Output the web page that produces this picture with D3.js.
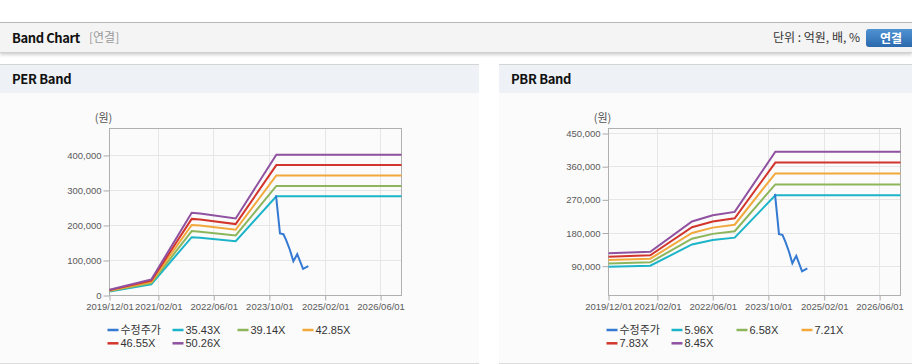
<!DOCTYPE html>
<html>
<head>
<meta charset="utf-8">
<script src="https://cdn.jsdelivr.net/npm/d3@7"></script>
<style>
body { margin: 0; width: 912px; height: 364px; overflow: hidden; background: #fff; position: relative;
  font-family: "Noto Sans CJK KR", "Liberation Sans", sans-serif; }
.topbar { position: absolute; left: 0; top: 22px; width: 912px; height: 29px; background: #f4f4f4;
  border-top: 1px solid #b8b8b8; border-bottom: 1px solid #d0d0d0; box-shadow: 0 2px 3px rgba(0,0,0,.18); }
.topbar .title { position: absolute; left: 12px; top: 5px; font-size: 13px; font-weight: bold; color: #111;
  letter-spacing: -0.4px; }
.topbar .sub { position: absolute; left: 89px; top: 5px; font-size: 12px; color: #999; }
.topbar .unit { position: absolute; right: 52px; top: 5px; font-size: 12px; color: #333; }
.topbar .btn { position: absolute; left: 866px; top: 6px; width: 52px; height: 18px; border-radius: 3px;
  background: linear-gradient(#4f93d3, #2b68ad); color: #fff; font-size: 12px; font-weight: bold;
  line-height: 18px; text-indent: 14px; }
.panel { position: absolute; top: 64px; height: 298px; background: #fbfbfb;
  border-top: 1px solid #d4d4d4; border-bottom: 1px solid #dcdcdc; }
.panel .head { height: 28px; background: #eef1f6; font-size: 13px; font-weight: bold; color: #111;
  line-height: 28px; padding-left: 12px; letter-spacing: -0.3px; }
.panel svg { position: absolute; left: 0; top: 28px; }
</style>
</head>
<body>
<div class="topbar">
  <div class="title">Band Chart</div>
  <div class="sub">[연결]</div>
  <div class="unit">단위 : 억원, 배, %</div>
  <div class="btn">연결</div>
</div>
<div class="panel" id="per" style="left:0;width:479px;"><div class="head">PER Band</div></div>
<div class="panel" id="pbr" style="left:499px;width:413px;"><div class="head">PBR Band</div></div>
<script>
// x axis
var xStart = '2019-12-01';
var xEnd = '2026-12-01';
var xTickDates = ['2019-12-01', '2021-02-01', '2022-06-01', '2023-10-01', '2025-02-01', '2026-06-01'];

// adjusted price (shared by both charts)
var priceDates = ['2023-11-28', '2024-01-02', '2024-02-01', '2024-02-25', '2024-03-29', '2024-04-28', '2024-06-01', '2024-07-22', '2024-09-06'];
var priceValues = [286000, 177000, 175000, 158000, 130000, 98000, 118000, 76000, 84000];

// PER band
var perDates = ['2019-12-01', '2020-12-01', '2021-11-20', '2022-02-01', '2022-12-10', '2023-12-01', '2026-12-01'];
var perLabels = ['35.43X', '39.14X', '42.85X', '46.55X', '50.26X'];
var per1 = [11700, 32200, 166500, 165100, 155200, 283400, 283400];
var per2 = [12900, 35600, 184000, 182400, 171400, 313100, 313100];
var per3 = [14100, 39000, 201400, 199700, 187700, 342800, 342800];
var per4 = [15400, 42400, 218800, 216900, 203900, 372400, 372400];
var per5 = [16600, 45700, 236200, 234200, 220100, 402100, 402100];
var perYTicks = [0, 100000, 200000, 300000, 400000];

// PBR band
var pbrDates = ['2019-12-01', '2020-12-01', '2021-12-01', '2022-06-01', '2022-12-10', '2023-12-01', '2026-12-01'];
var pbrLabels = ['5.96X', '6.58X', '7.21X', '7.83X', '8.45X'];
var pbr1 = [88200, 91200, 149000, 160900, 167500, 282500, 282500];
var pbr2 = [97400, 100700, 164500, 177700, 184900, 311900, 311900];
var pbr3 = [106700, 110300, 180300, 194700, 202600, 341800, 341800];
var pbr4 = [115900, 119800, 195800, 211400, 220000, 371100, 371100];
var pbr5 = [125100, 129300, 211300, 228200, 237400, 400500, 400500];
var pbrYTicks = [90000, 180000, 270000, 360000, 450000];

var bandColors = ['#1cb4c8', '#8db55b', '#f2a83b', '#d2352c', '#8f51a0'];
var priceColor = '#3479d2';

var parse = d3.timeParse('%Y-%m-%d');

drawBand('per', perDates, [per1, per2, per3, per4, per5], perLabels, [0, 477000], perYTicks, 479);
drawBand('pbr', pbrDates, [pbr1, pbr2, pbr3, pbr4, pbr5], pbrLabels, [10500, 463600], pbrYTicks, 413);

function drawBand(id, dates, bands, labels, yDomain, yTicks, panelWidth) {
  var m = { left: 109.5, top: 35.5, w: 292, h: 167 };

  var svg = d3.select('#' + id).append('svg')
    .attr('width', panelWidth)
    .attr('height', 269);

  var x = d3.scaleTime()
    .domain([parse(xStart), parse(xEnd)])
    .range([0, m.w]);
  var y = d3.scaleLinear()
    .domain(yDomain)
    .range([m.h, 0]);

  svg.append('text')
    .attr('x', m.left - 6)
    .attr('y', 29)
    .attr('text-anchor', 'middle')
    .style('font-size', '11px')
    .style('fill', '#555')
    .text('(원)');

  var g = svg.append('g')
    .attr('transform', 'translate(' + m.left + ',' + m.top + ')');

  // grid
  g.selectAll('.hgrid').data(yTicks).enter().append('line')
    .attr('x1', 0).attr('x2', m.w)
    .attr('y1', function(d) { return Math.round(y(d)); })
    .attr('y2', function(d) { return Math.round(y(d)); })
    .style('stroke', '#e6e6e6');
  g.selectAll('.vgrid').data(xTickDates).enter().append('line')
    .attr('x1', function(d) { return Math.round(x(parse(d))); })
    .attr('x2', function(d) { return Math.round(x(parse(d))); })
    .attr('y1', 0).attr('y2', m.h)
    .style('stroke', '#e6e6e6');

  // axes
  var yAxis = g.append('g')
    .call(d3.axisLeft(y).tickValues(yTicks).tickSize(6).tickPadding(2).tickFormat(d3.format(',')));
  var xAxis = g.append('g')
    .attr('transform', 'translate(0,' + m.h + ')')
    .call(d3.axisBottom(x).tickValues(xTickDates.map(parse)).tickSize(5).tickPadding(3)
      .tickFormat(d3.timeFormat('%Y/%m/%d')));
  [yAxis, xAxis].forEach(function(a) {
    a.select('.domain').remove();
    a.selectAll('line').style('stroke', '#aaa');
    a.selectAll('text')
      .style('font-family', '"Liberation Sans", Arial, sans-serif')
      .style('font-size', '9.5px')
      .style('fill', '#5a5a5a');
  });

  g.append('rect')
    .attr('width', m.w).attr('height', m.h)
    .style('fill', 'none')
    .style('stroke', '#b0b0b0');

  var line = d3.line()
    .x(function(d) { return x(d[0]); })
    .y(function(d) { return y(d[1]); });

  bands.forEach(function(vals, i) {
    g.append('path')
      .datum(vals.map(function(v, j) { return [parse(dates[j]), v]; }))
      .attr('d', line)
      .style('fill', 'none')
      .style('stroke', bandColors[i])
      .style('stroke-width', 2);
  });

  g.append('path')
    .datum(priceValues.map(function(v, j) { return [parse(priceDates[j]), v]; }))
    .attr('d', line)
    .style('fill', 'none')
    .style('stroke', priceColor)
    .style('stroke-width', 2);

  // legend
  var items = ['수정주가'].concat(labels);
  var colors = [priceColor].concat(bandColors);
  var leg = svg.selectAll('.leg').data(items).enter().append('g')
    .attr('transform', function(d, i) {
      return 'translate(' + (107.5 + 65 * (i % 4)) + ',' + (237 + 13.3 * Math.floor(i / 4)) + ')';
    });
  leg.append('line')
    .attr('x1', 0).attr('x2', 11)
    .style('stroke', function(d, i) { return colors[i]; })
    .style('stroke-width', 2.5);
  leg.append('text')
    .attr('x', 13)
    .attr('dy', '0.36em')
    .style('font-family', '"Liberation Sans", "Noto Sans CJK KR", sans-serif')
    .style('font-size', '11px')
    .style('fill', '#333')
    .text(function(d) { return d; });
}
</script>
</body>
</html>
